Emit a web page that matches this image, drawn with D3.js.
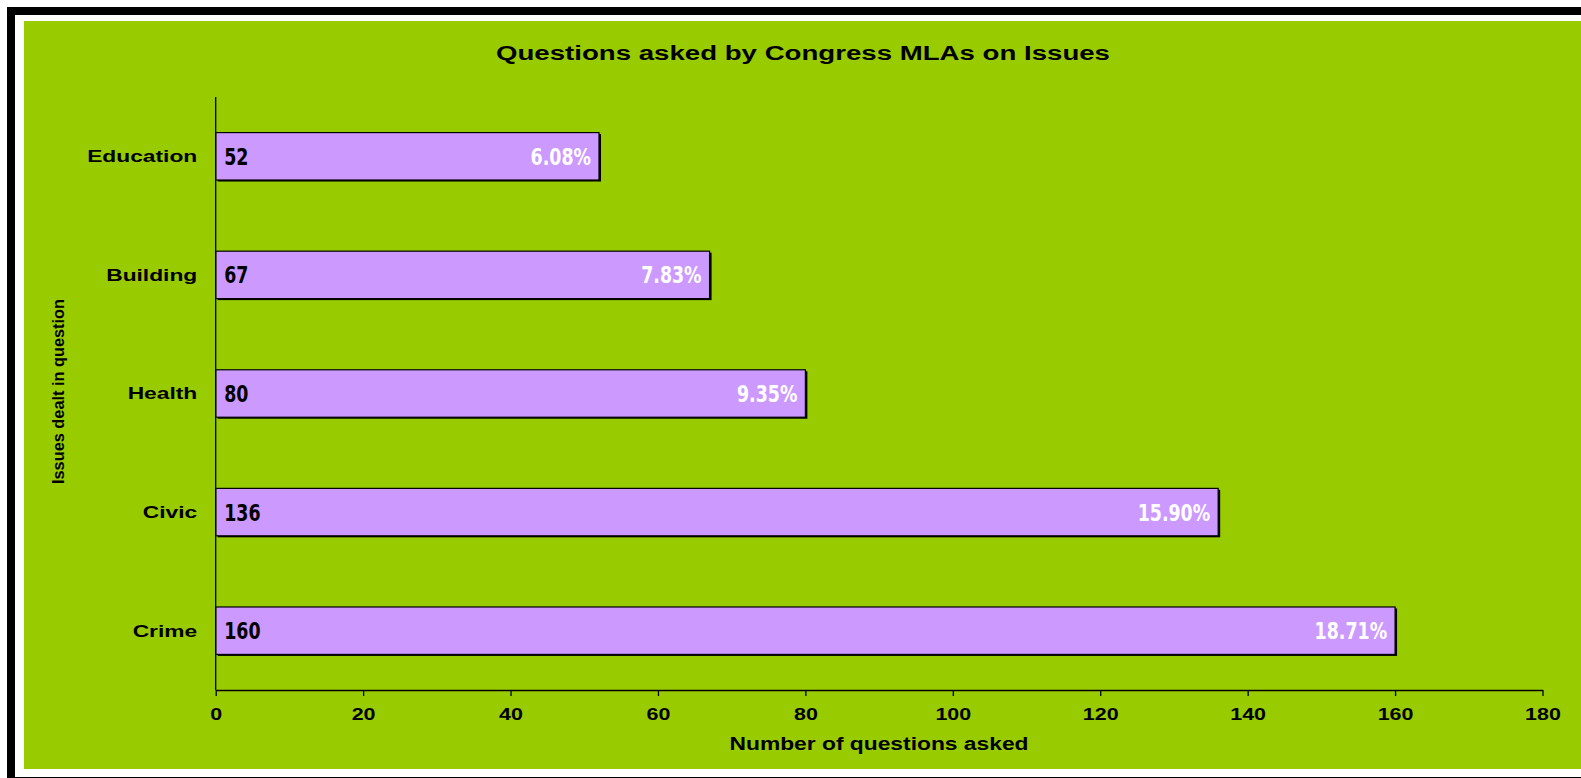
<!DOCTYPE html>
<html>
<head>
<meta charset="utf-8">
<script src="https://cdn.jsdelivr.net/npm/d3@7"></script>
<style>
  html, body { margin: 0; padding: 0; background: #ffffff; }
  svg { display: block; }
</style>
</head>
<body>
<svg id="chart" width="1581" height="778"></svg>
<script>
// ---- data ----
const categories = ["Education", "Building", "Health", "Civic", "Crime"];
const questions = [52, 67, 80, 136, 160];
const percents = [6.08, 7.83, 9.35, 15.90, 18.71];
const xTicks = [0, 20, 40, 60, 80, 100, 120, 140, 160, 180];
const titleText = "Questions asked by Congress MLAs on Issues";
const xTitle = "Number of questions asked";
const yTitle = "Issues dealt in question";

const data = categories.map((c, i) => ({ cat: c, value: questions[i], pct: percents[i] }));

const svg = d3.select("#chart");
const W = 1581, H = 778;

// frame
svg.append("rect").attr("x", 11).attr("y", 11).attr("width", W + 20).attr("height", 770)
  .attr("fill", "none").attr("stroke", "#000").attr("stroke-width", 8);
// green panel
svg.append("rect").attr("x", 24).attr("y", 21).attr("width", W - 24).attr("height", 748)
  .attr("fill", "#99CC00");

const plot = { left: 215.7, right: 1542.5, top: 97, bottom: 690 };

const x = d3.scaleLinear().domain([0, 180]).range([plot.left, plot.right]);
const y = d3.scaleBand().domain(categories).range([plot.top, plot.bottom])
  .paddingInner(0.6).paddingOuter(0.3);

const arial = "Arial, 'Liberation Sans', Helvetica, sans-serif";

// title
svg.append("text").attr("x", 803).attr("y", 59.5)
  .attr("text-anchor", "middle")
  .attr("font-family", arial).attr("font-weight", "bold").attr("font-size", 19.5)
  .attr("textLength", 614).attr("lengthAdjust", "spacingAndGlyphs")
  .attr("fill", "#000").text(titleText);

// bars: shadow + bar
const bars = svg.append("g");
bars.selectAll("rect.shadow").data(data).join("rect")
  .attr("class", "shadow")
  .attr("x", x(0) + 2).attr("y", d => y(d.cat) + 1.5)
  .attr("width", d => x(d.value) - x(0)).attr("height", y.bandwidth())
  .attr("fill", "#000");
bars.selectAll("rect.bar").data(data).join("rect")
  .attr("class", "bar")
  .attr("x", x(0)).attr("y", d => y(d.cat))
  .attr("width", d => x(d.value) - x(0)).attr("height", y.bandwidth())
  .attr("fill", "#CC99FF").attr("stroke", "#000").attr("stroke-width", 1.2);

const labelFont = "'DejaVu Sans Condensed', 'DejaVu Sans', sans-serif";
// value labels (inside left)
bars.selectAll("text.val").data(data).join("text")
  .attr("class", "val")
  .attr("transform", d => `translate(${x(0) + 8.5},${y(d.cat) + y.bandwidth() / 2 + 8.5}) scale(0.88,1.05)`)
  .attr("font-family", labelFont).attr("font-stretch", "condensed")
  .attr("font-weight", "bold").attr("font-size", 22)
  .attr("fill", "#000").text(d => d.value);
// percent labels (inside right)
bars.selectAll("text.pct").data(data).join("text")
  .attr("class", "pct")
  .attr("text-anchor", "end")
  .attr("transform", d => `translate(${x(d.value) - 8},${y(d.cat) + y.bandwidth() / 2 + 8.5}) scale(0.88,1.05)`)
  .attr("font-family", labelFont).attr("font-stretch", "condensed")
  .attr("font-weight", "bold").attr("font-size", 22)
  .attr("fill", "#fff").text(d => d3.format(".2f")(d.pct) + "%");

// x axis
const xAxis = svg.append("g").attr("transform", `translate(0,${plot.bottom})`)
  .call(d3.axisBottom(x).tickValues(xTicks).tickSize(6).tickPadding(4).tickSizeOuter(0));
xAxis.select(".domain").attr("stroke", "#000").attr("stroke-width", 1.3);
xAxis.selectAll(".tick line").attr("stroke", "#000").attr("stroke-width", 1.3);
xAxis.selectAll(".tick text")
  .attr("y", 30).attr("dy", null)
  .attr("transform", "scale(1.3,1)")
  .attr("font-family", arial).attr("font-weight", "bold").attr("font-size", 16.5)
  .attr("fill", "#000");

// y axis
const yAxis = svg.append("g").attr("transform", `translate(${plot.left},0)`)
  .call(d3.axisLeft(y).tickSize(0).tickPadding(0).tickSizeOuter(0));
yAxis.select(".domain").attr("d", `M0,${plot.top}V${plot.bottom}`)
  .attr("stroke", "#000").attr("stroke-width", 1.3);
yAxis.selectAll(".tick text")
  .attr("x", 0).attr("dy", "0.35em")
  .attr("transform", "translate(-18.5,0) scale(1.34,1)")
  .attr("font-family", arial).attr("font-weight", "bold").attr("font-size", 17)
  .attr("fill", "#000");

// axis titles
svg.append("text").attr("x", 879).attr("y", 749.5)
  .attr("text-anchor", "middle")
  .attr("font-family", arial).attr("font-weight", "bold").attr("font-size", 17.5)
  .attr("textLength", 299).attr("lengthAdjust", "spacingAndGlyphs")
  .attr("fill", "#000").text(xTitle);

svg.append("text")
  .attr("transform", "translate(64,391.5) rotate(-90)")
  .attr("text-anchor", "middle")
  .attr("font-family", arial).attr("font-weight", "bold").attr("font-size", 17)
  .attr("textLength", 185).attr("lengthAdjust", "spacingAndGlyphs")
  .attr("fill", "#000").text(yTitle);
</script>
</body>
</html>
